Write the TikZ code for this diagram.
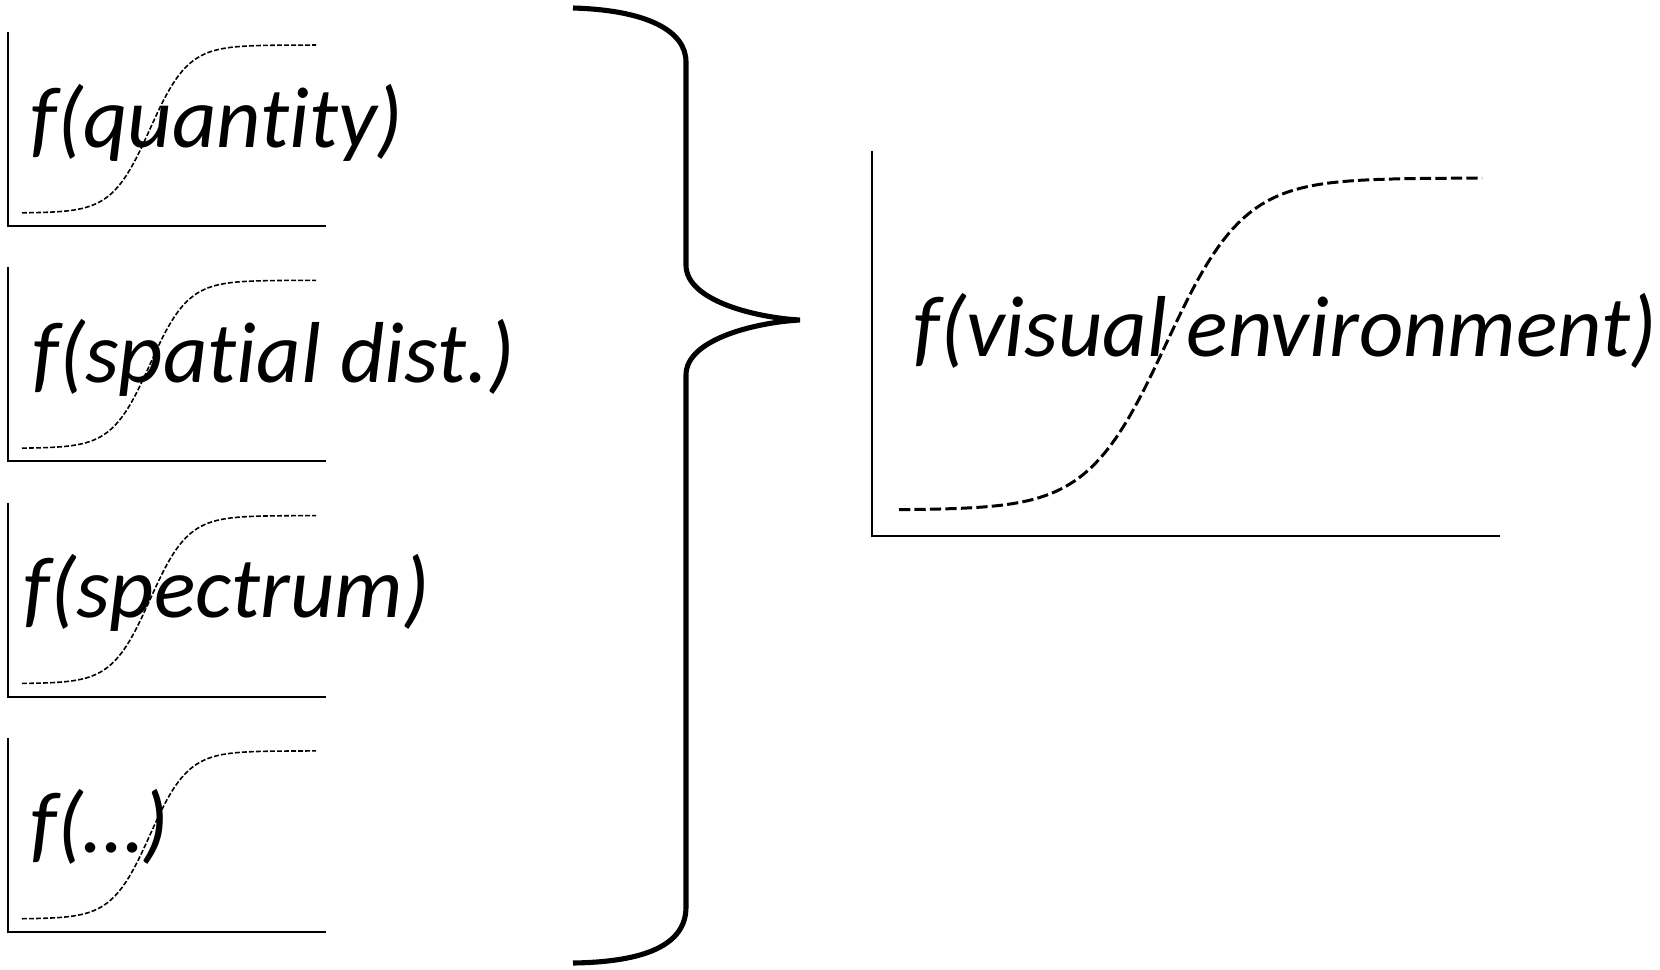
\documentclass[tikz,border=0pt]{standalone}
\usepackage{fontspec}
\setmainfont{Carlito}[Ligatures=NoCommon]
\usetikzlibrary{positioning}
\tikzstyle{axis} = [line width=0.6pt]
\tikzstyle{curve} = [line width=0.45pt, dash pattern=on 1.4pt off 0.6pt]
\tikzstyle{bigcurve} = [line width=0.85pt, dash pattern=on 3.2pt off 1.2pt]
\tikzstyle{brace} = [line width=1.45pt]
\tikzstyle{fname} = [inner sep=0pt, anchor=base west,
    font=\fontsize{24.6}{28}\selectfont\itshape]

\begin{document}
\begin{tikzpicture}[x=0.01cm, y=-0.01cm]
\useasboundingbox (0,0) rectangle (1660,969);
% small panels, one per factor
\foreach \txt/\lx [count=\i] in {f(quantity)/30, f(spatial dist.)/32,
    f(spectrum)/23, f(…)/30} {
  \pgfmathsetmacro{\oy}{226+235.3*(\i-1)}
  \coordinate (o\i) at (8,\oy);
  \draw[axis] (8,\oy-194) -- (o\i) -- (326,\oy);
  \draw[curve] plot[domain=22:316, samples=80]
    (\x, {\oy-13-168*(1+tanh((\x-150)/38))/2});
  \node[fname] (f\i) at (\lx,\oy-79) {\txt};
}
% curly brace
\draw[brace] (573,8) .. controls (645,10) and (686,30) .. (686,62)
  -- (686,265) .. controls (686,302) and (760,318) .. (800,320)
  .. controls (760,322) and (686,338) .. (686,375)
  -- (686,907) .. controls (686,945) and (645,962) .. (573,963);
% combined response
\coordinate (O) at (872,536);
\draw[axis] (872,151) -- (O) -- (1500,536);
\draw[bigcurve] plot[domain=899:1482, samples=120]
  (\x, {510-332*(1+tanh((\x-1166)/78))/2});
\node[fname] (env) at (913,356) {f(visual environment)};
\end{tikzpicture}
\end{document}
